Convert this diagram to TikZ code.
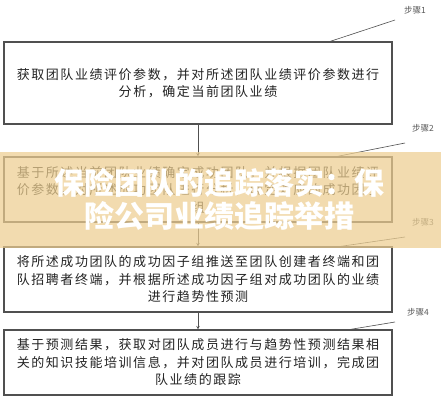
\documentclass[tikz,border=0pt]{standalone}
\usepackage{fontspec}
\usepackage{xcolor}
\usepackage{tikz}
\newfontfamily\cjk{Noto Sans CJK SC}
\newfontfamily\cjkbox[LetterSpace=12]{Noto Sans CJK SC}
\definecolor{boxline}{RGB}{80,80,80}
\definecolor{boxtext}{RGB}{35,35,35}
\definecolor{steptext}{RGB}{90,90,90}
\definecolor{banner}{RGB}{237,206,145}

\begin{document}
\begin{tikzpicture}[x=1pt, y=-1pt,
  stepbox/.style={draw=boxline, line width=1.1pt, minimum width=388pt, align=center,
    text=boxtext, font=\cjkbox\fontsize{13}{17.5}\selectfont, inner sep=0pt},
  steplabel/.style={text=steptext, font=\cjk\fontsize{8.5}{10}\selectfont},
  leader/.style={draw=boxline, line width=0.6pt},
  flow/.style={draw=boxline, line width=0.6pt, ->, >=stealth}]
\useasboundingbox (0, 0) rectangle (441, 400);
\fill[white] (0, 0) rectangle (441, 400);
\node[stepbox, minimum height=82pt] (b1) at (198, 83) {获取团队业绩评价参数，并对所述团队业绩评价参数进行\\分析，确定当前团队业绩};
\node[stepbox, minimum height=65pt] (b2) at (198, 189.5) {基于所述当前团队业绩确定成功团队，并根据团队业绩评\\价参数，对所述成功团队进行分析，确定对应的成功因子\\组};
\node[stepbox, minimum height=65pt] (b3) at (198, 279.5) {将所述成功团队的成功因子组推送至团队创建者终端和团\\队招聘者终端，并根据所述成功因子组对成功团队的业绩\\进行趋势性预测};
\node[stepbox, minimum height=65pt] (b4) at (198, 362.5) {基于预测结果，获取对团队成员进行与趋势性预测结果相\\关的知识技能培训信息，并对团队成员进行培训，完成团\\队业绩的跟踪};
\node[steplabel] (s1) at (415, 10) {步骤1};
\node[steplabel] (s2) at (423, 128) {步骤2};
\node[steplabel] (s3) at (423, 222) {步骤3};
\node[steplabel] (s4) at (418, 312) {步骤4};
\coordinate (e1) at (395, 20);
\coordinate (e2) at (405, 143);
\coordinate (e3) at (405, 237);
\coordinate (e4) at (395, 322);
\draw[flow] (b1) -- (b2);
\draw[flow] (b2) -- (b3);
\draw[flow] (b3) -- (b4);
\draw[leader] ([xshift=132pt]b1.north) -- (e1);
\draw[leader] ([xshift=139pt]b2.north) -- (e2);
\draw[leader] ([xshift=142pt]b3.north) -- (e3);
\draw[leader] ([xshift=152pt]b4.north) -- (e4);
\fill[banner, fill opacity=0.72] (0, 152) rectangle (441, 248);
\node[text=white, align=center, font=\cjk\bfseries\fontsize{30}{33}\selectfont] (title) at (219, 199) {保险团队的追踪落实：保\\险公司业绩追踪举措};
\end{tikzpicture}
\end{document}
